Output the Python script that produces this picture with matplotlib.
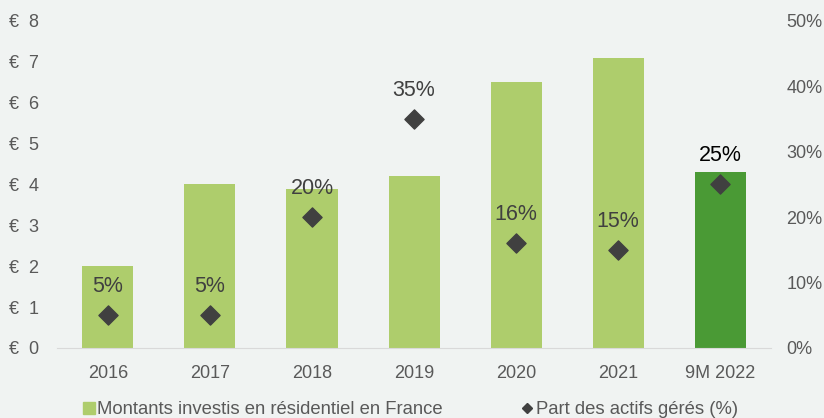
import matplotlib.pyplot as plt
from matplotlib.lines import Line2D
from matplotlib.ticker import FuncFormatter

# donnees
annees = ['2016', '2017', '2018', '2019', '2020', '2021', '9M 2022']
montants = [2.0, 4.0, 3.9, 4.2, 6.5, 7.1, 4.3]
part_actifs = [5, 5, 20, 35, 16, 15, 25]
couleurs = ['#aecd6c'] * 6 + ['#4a9a35']

fond = '#f0f3f2'
gris = '#595959'
plt.rcParams['font.family'] = ['Liberation Sans', 'DejaVu Sans']

fig = plt.figure(figsize=(8.24, 4.18), dpi=100, facecolor=fond)
ax = fig.add_axes([0.069, 0.1675, 0.867, 0.7825])
ax.set_facecolor(fond)
ax2 = ax.twinx()

x = range(len(annees))
ax.bar(x, montants, width=0.5, color=couleurs, zorder=2)
ax.set_ylim(0, 8)
ax.set_xlim(-0.5, len(annees) - 0.5)
ax.set_xticks(list(x))
ax.set_xticklabels(annees)
ax.yaxis.set_major_formatter(FuncFormatter(lambda v, p: '€  %d' % v))

ax2.scatter(x, part_actifs, marker='D', s=95, color='#404040', zorder=3)
ax2.set_ylim(0, 50)
ax2.set_yticks(range(0, 51, 10))
ax2.yaxis.set_major_formatter(FuncFormatter(lambda v, p: '%d%%' % v))

for i, p in enumerate(part_actifs):
    c = 'black' if i == len(part_actifs) - 1 else '#404040'
    ax2.annotate('%d%%' % p, (i, p), xytext=(0, 13), textcoords='offset points',
                 ha='center', va='bottom', fontsize=15.5, color=c)

for a in (ax, ax2):
    for s in a.spines.values():
        s.set_visible(False)
    a.tick_params(length=0, colors=gris, labelsize=13)
ax.spines['bottom'].set_visible(True)
ax.spines['bottom'].set_color('#d9d9d9')
ax.tick_params(axis='x', pad=12)
ax.tick_params(axis='y', pad=13)
ax2.tick_params(axis='y', pad=11)

handles = [Line2D([], [], marker='s', linestyle='', color='#aecd6c', markersize=8),
           Line2D([], [], marker='D', linestyle='', color='#404040', markersize=5)]
fig.legend(handles, ['Montants investis en résidentiel en France', 'Part des actifs gérés (%)'],
           loc='lower center', bbox_to_anchor=(0.497, -0.04), ncol=2, frameon=False,
           fontsize=13.3, labelcolor=gris, handletextpad=0.05, columnspacing=4.2,
           handlelength=0.8)

plt.savefig('out.png', dpi=100, facecolor=fond)
